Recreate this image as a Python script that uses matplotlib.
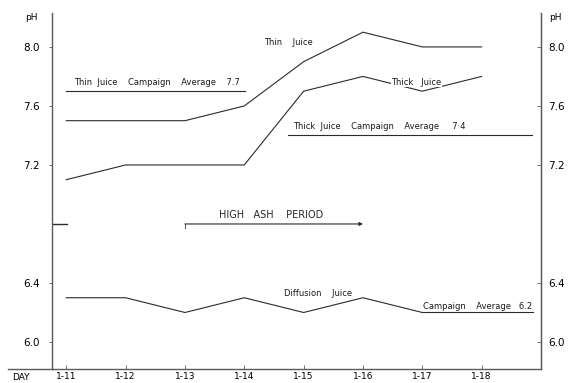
import matplotlib
matplotlib.use('Agg')
import matplotlib.pyplot as plt

# Дни кампании
days = ['1-11', '1-12', '1-13', '1-14', '1-15', '1-16', '1-17', '1-18']

# pH по дням
thin_juice = [7.5, 7.5, 7.5, 7.6, 7.9, 8.1, 8.0, 8.0]
thick_juice = [7.1, 7.2, 7.2, 7.2, 7.7, 7.8, 7.7, 7.8]
diffusion_juice = [6.3, 6.3, 6.2, 6.3, 6.2, 6.3, 6.2]

# Средние за кампанию
thin_avg = 7.7
thick_avg = 7.4
diffusion_avg = 6.2
high_ash_level = 6.8

y_ticks = [6.0, 6.4, 7.2, 7.6, 8.0]
y_labels = ['6.0', '6.4', '7.2', '7.6', '8.0']

ink = '#2b2b2b'
axis_ink = '#5a5a5a'

fig = plt.figure(figsize=(5.75, 3.83), dpi=100)
ax = fig.add_axes([52 / 575, 14 / 383, 489 / 575, 356 / 383])
ax.set_xlim(-0.24, 8.0)
ax.set_ylim(5.817, 8.23)

x = list(range(len(days)))

# Основные кривые
ax.plot(x, thin_juice, color=ink, lw=0.8)
ax.plot(x, thick_juice, color=ink, lw=0.8)
ax.plot(x[:len(diffusion_juice)], diffusion_juice, color=ink, lw=0.8)

# Линии средних значений
ax.plot([0, 3.02], [thin_avg, thin_avg], color=ink, lw=0.8)
ax.plot([3.74, 7.85], [thick_avg, thick_avg], color=ink, lw=0.8)
ax.plot([6, 7.86], [diffusion_avg, diffusion_avg], color=ink, lw=0.8)

# Период высокой зольности
ax.plot([-0.24, 0.02], [high_ash_level, high_ash_level], color=ink, lw=1.0)
ax.annotate('', xy=(5.0, high_ash_level), xytext=(2.0, high_ash_level),
            arrowprops=dict(arrowstyle='-|>', color=ink, lw=0.8,
                            mutation_scale=5, shrinkA=0, shrinkB=0))
ax.plot([2.0, 2.0], [high_ash_level, high_ash_level - 0.03], color=ink, lw=0.6)

txt = dict(fontsize=6, color='#1a1a1a', family='DejaVu Sans')
ax.text(0.13, thin_avg + 0.03, 'Thin  Juice    Campaign    Average    7.7', ha='left', va='bottom', **txt)
ax.text(3.83, thick_avg + 0.03, 'Thick  Juice    Campaign    Average     7·4', ha='left', va='bottom', **txt)
ax.text(6.02, diffusion_avg + 0.01, 'Campaign    Average   6.2', ha='left', va='bottom', **txt)
ax.text(3.74, 8.03, 'Thin    Juice', ha='center', va='center', **txt)
ax.text(5.9, 7.76, 'Thick   Juice', ha='center', va='center',
        bbox=dict(facecolor='white', edgecolor='none', pad=0.3), **txt)
ax.text(4.24, 6.33, 'Diffusion    Juice', ha='center', va='center', **txt)
ax.text(3.45, 6.86, 'HIGH   ASH    PERIOD', ha='center', va='center',
        fontsize=7, color='#262626')

# Оси
ax.spines['top'].set_visible(False)
for side in ['left', 'right', 'bottom']:
    ax.spines[side].set_color(axis_ink)
    ax.spines[side].set_linewidth(1.0)
ax.plot([-0.09, 0], [0, 0], transform=ax.transAxes, color=axis_ink, lw=1.0, clip_on=False)

ax.set_xticks(x)
ax.set_xticklabels(days, fontsize=6.5)
ax.tick_params(axis='x', direction='in', length=3, width=0.6, color=axis_ink, pad=2.5)

ax.set_yticks(y_ticks)
ax.set_yticklabels(y_labels, fontsize=7.5)
ax.tick_params(axis='y', direction='out', length=2, width=0.6, color=axis_ink, pad=7)

ax2 = ax.twinx()
ax2.set_ylim(ax.get_ylim())
ax2.set_yticks(y_ticks)
ax2.set_yticklabels(y_labels, fontsize=7.5)
ax2.tick_params(axis='y', direction='in', length=3, width=0.6, color=axis_ink, pad=5)
for side in ['top', 'left', 'bottom']:
    ax2.spines[side].set_visible(False)
ax2.spines['right'].set_color(axis_ink)

fig.text(31 / 575, 1 - 18 / 383, 'pH', fontsize=6.5, ha='center', va='center')
fig.text(555 / 575, 1 - 18 / 383, 'pH', fontsize=6.5, ha='center', va='center')
fig.text(21 / 575, 1 - 377 / 383, 'DAY', fontsize=6.5, ha='center', va='center')

fig.savefig('out.png', dpi=100, facecolor='white')
